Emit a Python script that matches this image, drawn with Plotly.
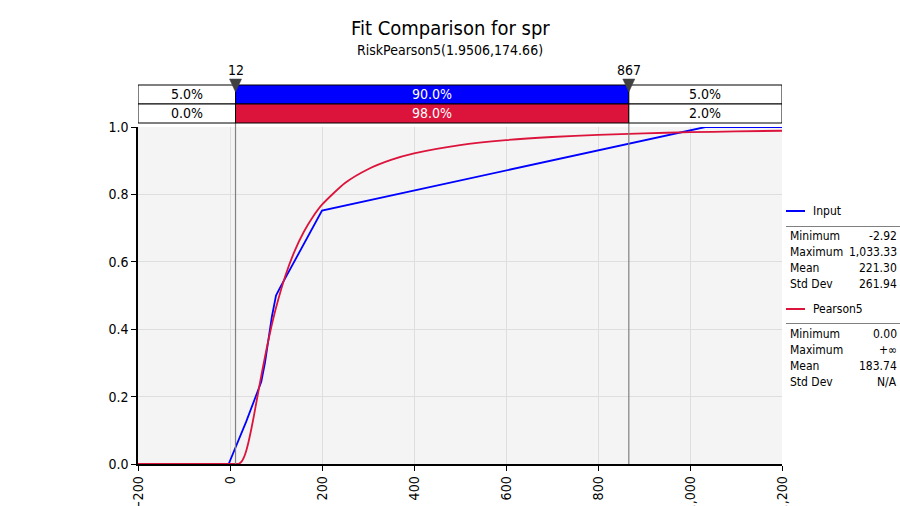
import plotly.graph_objects as go

# ---------------- data ----------------
input_x = [-200, -2.92, 35, 68, 76, 84, 91, 100, 108, 200, 1033.33, 1200]
input_y = [0.0, 0.0, 0.125, 0.244, 0.30, 0.378, 0.437, 0.50, 0.521, 0.752, 1.0, 1.0]

pearson_x = [-200, 0, 10, 15, 20, 25, 30, 35, 40, 45, 50, 55, 60, 65, 70, 80, 90,
             100, 120, 140, 160, 180, 200, 250, 300, 350, 400, 500, 600, 700,
             800, 900, 1000, 1100, 1200]
pearson_y = [0.0, 0.0, 0.0, 0.0001, 0.0014, 0.0068, 0.0187, 0.0380, 0.0640, 0.0949,
             0.1292, 0.1657, 0.2029, 0.2398, 0.2760, 0.3450, 0.4076, 0.4637, 0.5572,
             0.6303, 0.6876, 0.7330, 0.7694, 0.8339, 0.8748, 0.9024, 0.9217, 0.9464,
             0.9610, 0.9704, 0.9767, 0.9812, 0.9845, 0.9870, 0.9889]

cut_values = [12, 867]
cut_labels = ["12", "867"]
input_pcts = ["5.0%", "90.0%", "5.0%"]
fit_pcts = ["0.0%", "98.0%", "2.0%"]

stat_names = ["Minimum", "Maximum", "Mean", "Std Dev"]
input_stats = ["-2.92", "1,033.33", "221.30", "261.94"]
fit_stats = ["0.00", "+\u221e", "183.74", "N/A"]

x_ticks = [-200, 0, 200, 400, 600, 800, 1000, 1200]
y_ticks = [0.0, 0.2, 0.4, 0.6, 0.8, 1.0]

BLUE = "#0000ff"
RED = "#dc143c"
FONT = "'DejaVu Sans Condensed', 'DejaVu Sans', sans-serif"

# ---------------- geometry helpers (pixel -> paper) ----------------
L, R, T, B = 138, 782, 127, 464
W, H = 900, 506
XSPAN = x_ticks[-1] - x_ticks[0]


def px(xp):
    return (xp - L) / (R - L)


def py(yp):
    return (B - yp) / (B - T)


def dx(pixels):
    return pixels * XSPAN / (R - L)


def txt(x, y, text, size=12, xanchor="center", color="black", xref="paper"):
    return dict(xref=xref, yref="paper", x=x, y=y, text=text, showarrow=False,
                xanchor=xanchor, yanchor="middle",
                font=dict(size=size, family=FONT, color=color))


fig = go.Figure()
fig.add_trace(go.Scatter(x=input_x, y=input_y, mode="lines",
                         line=dict(color=BLUE, width=1.8), name="Input",
                         hoverinfo="skip"))
fig.add_trace(go.Scatter(x=pearson_x, y=pearson_y, mode="lines",
                         line=dict(color=RED, width=1.8, shape="spline",
                                   smoothing=0.6),
                         name="Pearson5", hoverinfo="skip"))

shapes = []
annotations = []

# vertical cut lines
for cv in cut_values:
    shapes.append(dict(type="line", xref="x", yref="paper", x0=cv, x1=cv,
                       y0=0, y1=py(85), line=dict(color="#808080", width=1.2),
                       layer="above"))

# the two probability bars
edges = [x_ticks[0], cut_values[0], cut_values[1], x_ticks[-1]]
rows = [(85, 104, input_pcts, BLUE), (104, 123, fit_pcts, RED)]
for (ytop, ybot, labels, col) in rows:
    for i in range(3):
        fill = col if i == 1 else "white"
        shapes.append(dict(type="rect", xref="x", yref="paper",
                           x0=edges[i], x1=edges[i + 1], y0=py(ybot), y1=py(ytop),
                           fillcolor=fill, line=dict(color="black", width=1),
                           layer="above"))
        annotations.append(txt((edges[i] + edges[i + 1]) / 2,
                               py((ytop + ybot) / 2) + 0.002, labels[i], size=14,
                               color="white" if i == 1 else "black", xref="x"))

# triangle markers at the cut points
for cv in cut_values:
    path = (f"M {cv - dx(6)},{py(79)} L {cv + dx(6)},{py(79)} "
            f"L {cv},{py(92)} Z")
    shapes.append(dict(type="path", xref="x", yref="paper", path=path,
                       fillcolor="#404040", line=dict(color="#404040", width=0.5),
                       layer="above"))

for cv, lab in zip(cut_values, cut_labels):
    annotations.append(txt(cv, py(70), lab, size=14, xref="x"))

# title / subtitle
annotations.append(txt(px(450), py(28), "Fit Comparison for spr", size=20))
annotations.append(txt(px(450), py(50), "RiskPearson5(1.9506,174.66)", size=14))

# legend with statistics
blocks = [("Input", BLUE, input_stats, 211, 226.5, [236, 252, 268, 284]),
          ("Pearson5", RED, fit_stats, 309, 323.5, [334, 350, 366, 382])]
for name, col, vals, yl, ysep, yrows in blocks:
    shapes.append(dict(type="line", xref="paper", yref="paper", x0=px(786),
                       x1=px(805), y0=py(yl), y1=py(yl),
                       line=dict(color=col, width=2)))
    annotations.append(txt(px(811), py(yl), name, xanchor="left"))
    shapes.append(dict(type="line", xref="paper", yref="paper", x0=px(786),
                       x1=px(900), y0=py(ysep), y1=py(ysep),
                       line=dict(color="#808080", width=1)))
    for nm, v, yr in zip(stat_names, vals, yrows):
        annotations.append(txt(px(788), py(yr), nm, xanchor="left"))
        annotations.append(txt(px(899), py(yr), v, xanchor="right"))

fig.update_layout(
    width=W, height=H,
    margin=dict(l=L, r=W - R, t=T, b=H - B, pad=0),
    paper_bgcolor="white", plot_bgcolor="#f4f4f4",
    showlegend=False,
    font=dict(family=FONT, size=14, color="black"),
    shapes=shapes, annotations=annotations,
)
fig.update_xaxes(range=[x_ticks[0], x_ticks[-1]], tickvals=x_ticks,
                 tickformat=",d", tickangle=-90, showgrid=True,
                 gridcolor="#dedede", gridwidth=1, zeroline=False,
                 showline=True, linecolor="black", linewidth=1.5,
                 ticks="outside", ticklen=5, tickcolor="black",
                 tickfont=dict(size=14, family=FONT), automargin=False)
fig.update_yaxes(range=[0, 1], tickvals=y_ticks, tickformat=".1f",
                 showgrid=True, gridcolor="#dedede", gridwidth=1,
                 zeroline=False, showline=True, linecolor="black",
                 linewidth=1.5, ticks="outside", ticklen=5, tickcolor="black",
                 tickfont=dict(size=14, family=FONT), automargin=False)

fig.write_html("out.html")
